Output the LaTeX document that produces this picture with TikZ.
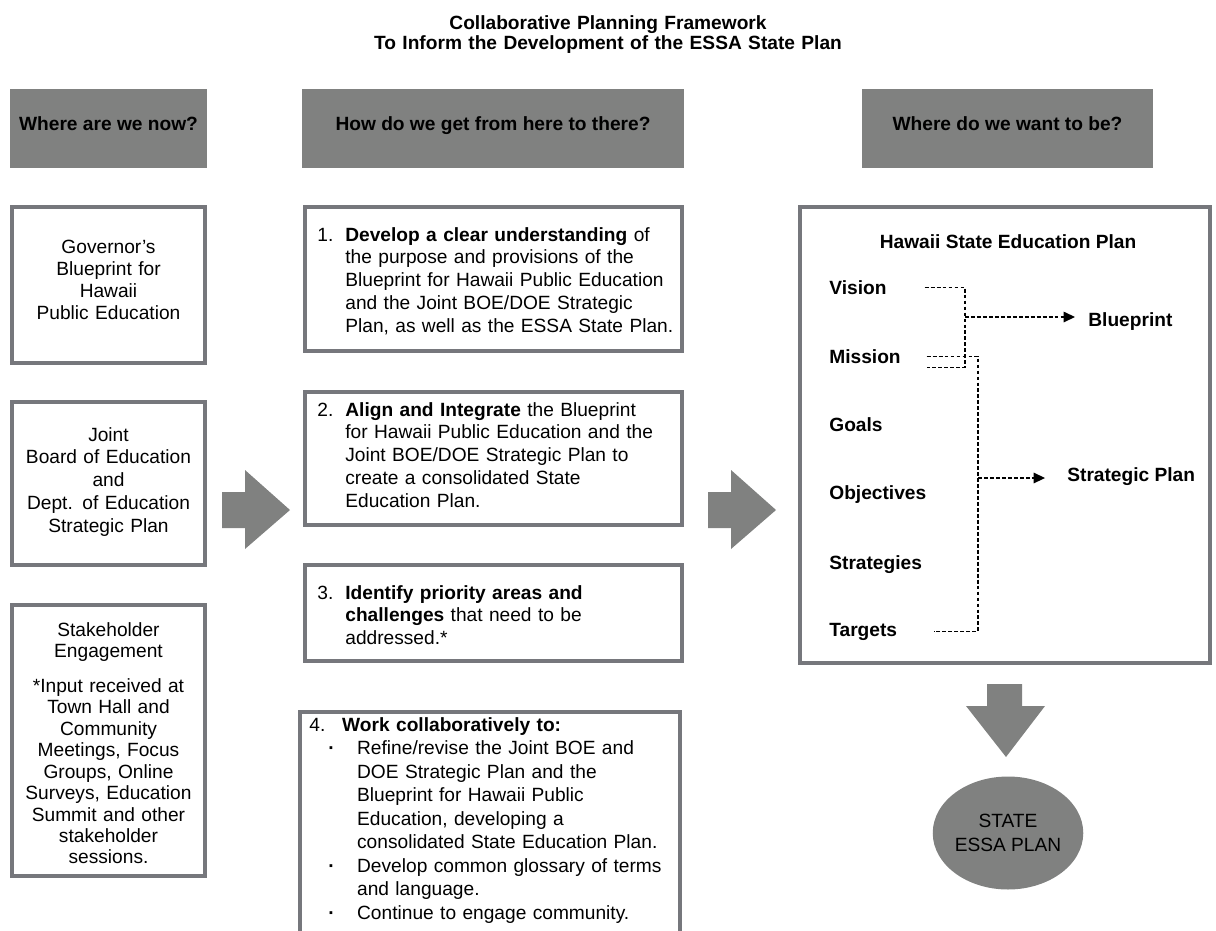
\documentclass[tikz,border=0pt]{standalone}
\usepackage{fontspec}
\setmainfont{Liberation Sans}
\usetikzlibrary{arrows.meta,calc,shapes.geometric}

\definecolor{hdrgray}{RGB}{128,129,128}
\definecolor{framegray}{RGB}{118,119,124}

\tikzset{
  hdr/.style={fill=hdrgray},
  frame/.style={draw=framegray, line width=2.2pt},
  hdrtxt/.style={anchor=base, inner sep=0pt, font=\fontsize{10.9}{13}\selectfont\bfseries},
  numtxt/.style={anchor=base west, inner sep=0pt, font=\fontsize{10.9}{13}\selectfont},
  midtxt/.style={anchor=base west, inner sep=0pt, text width=7cm, align=left, font=\fontsize{10.9}{13}\selectfont},
  lefttxt/.style={anchor=base, inner sep=0pt, text width=3.8cm, align=center, font=\fontsize{10.9}{12.6}\selectfont},
  lvl/.style={anchor=base west, inner sep=0pt, text width=1.9cm, align=left, font=\fontsize{10.9}{13}\selectfont\bfseries},
  lvlout/.style={anchor=base west, inner sep=0pt, font=\fontsize{10.9}{13}\selectfont\bfseries},
  blockarrow/.style={fill=hdrgray},
  dashline/.style={line width=0.7pt, dash pattern=on 2.2pt off 1.2pt},
  dasharrow/.style={dashline, -{Triangle[length=6.5pt,width=6pt]}}
}

\begin{document}
\begin{tikzpicture}[x=0.02cm, y=-0.02cm]
        \useasboundingbox (0,0) rectangle (1216,930);

        %%T
        \node[hdrtxt, text width=12cm, align=center, font=\fontsize{10.9}{11.9}\selectfont\bfseries] (title) at (608,29)
            {Collaborative Planning Framework\\To Inform the Development of the ESSA State Plan};

        %%H
        \fill[hdr](10, 89) rectangle (207, 168);
        \fill[hdr](302, 89) rectangle (684, 168);
        \fill[hdr](862, 89) rectangle (1153, 168);
        \node[hdrtxt] (now) at (108.5, 130){Where are we now?};
        \node[hdrtxt] (how) at (493, 130){How do we get from here to there?};
        \node[hdrtxt] (want) at (1007.5, 130){Where do we want to be?};

        %%L1
        \draw[frame](12, 207) rectangle (205, 363);
        \node[lefttxt] (gov) at (108.5, 253){Governor's\\Blueprint for\\Hawaii\\Public Education};
        %%L2
        \draw[frame](12, 402) rectangle (205, 565);
        \node[lefttxt, font=\fontsize{10.9}{13}\selectfont] (joint) at (108.5, 441)
            {Joint\\Board of Education\\and\\Dept. of Education\\Strategic Plan};
        %%L3
        \draw[frame](12, 605) rectangle (205, 876);
        \node[lefttxt, font=\fontsize{10.9}{12.2}\selectfont] (stake) at (108.5, 636)
            {Stakeholder\\Engagement\\[7.7pt]*Input received at\\Town Hall and\\Community\\Meetings, Focus\\Groups, Online\\Surveys, Education\\Summit and other\\stakeholder\\sessions.};

        %%M1
        \draw[frame](305, 207) rectangle (682, 351);
        \node[numtxt] (n1) at (317, 241){1.};
        \node[midtxt] (step1) at (345, 241){\textbf{Develop a clear understanding} of\\the purpose and provisions of the\\Blueprint for Hawaii Public Education\\and the Joint BOE/DOE Strategic\\Plan, as well as the ESSA State Plan.};
        %%M2
        \draw[frame](305, 392) rectangle (682, 525);
        \node[numtxt] (n2) at (317, 416){2.};
        \node[midtxt] (step2) at (345, 416){\textbf{Align and Integrate} the Blueprint\\for Hawaii Public Education and the\\Joint BOE/DOE Strategic Plan to\\create a consolidated State\\Education Plan.};
        %%M3
        \draw[frame](305, 565) rectangle (682, 661);
        \node[numtxt] (n3) at (317, 599){3.};
        \node[midtxt] (step3) at (345, 599){\textbf{Identify priority areas and}\\\textbf{challenges} that need to be\\addressed.*};
        %%M4
        \draw[frame](300, 712) rectangle (680, 950);
        \node[numtxt] (n4) at (309, 731){4.};
        \node[midtxt, font=\fontsize{10.9}{13.4}\selectfont] (step4) at (328, 731)
            {\hspace*{7.9pt}\textbf{Work collaboratively to:}\\
             \makebox[16.4pt][l]{\textbf{·}}Refine/revise the Joint BOE and\\
             \hspace*{16.4pt}DOE Strategic Plan and the\\
             \hspace*{16.4pt}Blueprint for Hawaii Public\\
             \hspace*{16.4pt}Education, developing a\\
             \hspace*{16.4pt}consolidated State Education Plan.\\
             \makebox[16.4pt][l]{\textbf{·}}Develop common glossary of terms\\
             \hspace*{16.4pt}and language.\\
             \makebox[16.4pt][l]{\textbf{·}}Continue to engage community.};

        %%R
        \draw[frame](800, 207) rectangle (1210, 663);
        \node[hdrtxt] (hsep) at (1008, 248){Hawaii State Education Plan};
        \node[lvl] (vision) at (829, 294){Vision};
        \node[lvl] (mission) at (829, 363){Mission};
        \node[lvl] (goals) at (829, 431){Goals};
        \node[lvl] (objectives) at (829, 499){Objectives};
        \node[lvl] (strategies) at (829, 569){Strategies};
        \node[lvl] (targets) at (829, 636){Targets};
        \node[lvlout] (blueprint) at (1088, 326){Blueprint};
        \node[lvlout] (strategic) at (1067, 481){Strategic Plan};
            \coordinate (bpjoin) at (965, 317);
            \coordinate (spjoin) at (978, 478);
            \draw[dashline](vision.east) -| (bpjoin) |- ($(mission.east)+(2, 11)$);
            \draw[dashline]($(mission.east)+(2, 0)$) -| (spjoin) |- ($(targets.east)+(9, 0)$);
            \draw[dasharrow, shorten >=7.4pt](bpjoin) to (bpjoin -| blueprint.west);
            \draw[dasharrow, shorten >=12.5pt](spjoin) to (spjoin -| strategic.west);

        %%A
        \fill[blockarrow](222, 492) -- (245, 492) -- (245, 470) -- (290, 510) -- (245, 549) -- (245, 528) -- (222, 528) -- cycle;
        \fill[blockarrow](708, 492) -- (731, 492) -- (731, 470) -- (776, 510) -- (731, 549) -- (731, 528) -- (708, 528) -- cycle;
        \fill[blockarrow](987, 684) -- (1022, 684) -- (1022, 706) -- (1045, 706) -- (1006, 757) -- (966, 706) -- (987, 706) -- cycle;

        %%E
        \node[ellipse, fill=hdrgray, minimum width=3cm, minimum height=2.26cm, inner sep=0pt, align=center,
              font=\fontsize{10.9}{13.6}\selectfont] (essa) at (1008, 833){STATE\\ESSA PLAN};
\end{tikzpicture}
\end{document}
